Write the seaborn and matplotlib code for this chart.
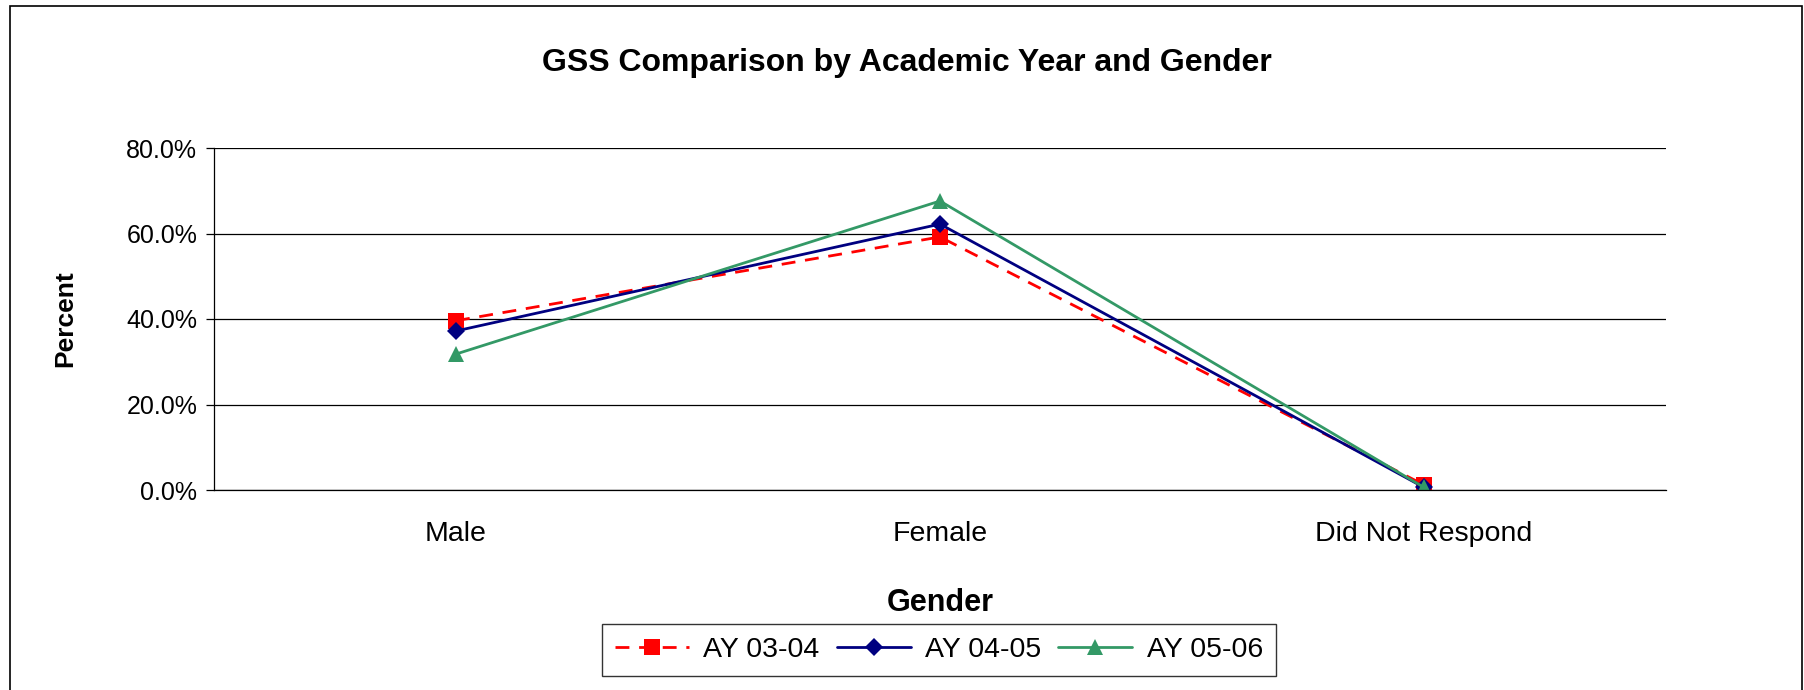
import pandas as pd
import matplotlib
matplotlib.use("Agg")
import matplotlib.pyplot as plt
import seaborn as sns
from matplotlib.patches import Rectangle
from matplotlib.ticker import PercentFormatter, FixedLocator

# ── data ────────────────────────────────────────────────────
genders = ["Male", "Female", "Did Not Respond"]
ay_0304 = [0.396, 0.592, 0.012]
ay_0405 = [0.372, 0.622, 0.006]
ay_0506 = [0.318, 0.676, 0.006]
series_names = ["AY 03-04", "AY 04-05", "AY 05-06"]

df = pd.DataFrame({
    "Gender": genders * 3,
    "Percent": ay_0304 + ay_0405 + ay_0506,
    "Year": [n for n in series_names for _ in genders],
})

sns.set_style("white")
plt.rcParams["font.family"] = ["Liberation Sans", "DejaVu Sans"]
plt.rcParams.update({"text.color": "black", "axes.labelcolor": "black",
                     "xtick.color": "black", "ytick.color": "black"})

fig = plt.figure(figsize=(18.04, 6.9), dpi=100)
ax = fig.add_axes([214 / 1804, 1 - 490 / 690, 1452 / 1804, 342 / 690])

styles = {
    "AY 03-04": dict(color="#FF0000", marker="s", ms=11, dashes=(5, 3.5)),
    "AY 04-05": dict(color="#000080", marker="D", ms=9, dashes=()),
    "AY 05-06": dict(color="#339966", marker="^", ms=12, dashes=()),
}
for name in series_names:
    st = styles[name]
    sub = df[df["Year"] == name]
    sns.lineplot(data=sub, x="Gender", y="Percent", ax=ax, color=st["color"],
                 marker=st["marker"], markersize=st["ms"], markeredgewidth=0,
                 linewidth=2, label=name, sort=False)
    ln = ax.get_lines()[-1]
    if st["dashes"]:
        ln.set_dashes(st["dashes"])

ax.set_xlim(-0.5, 2.5)
ax.set_ylim(0, 0.8)
ax.set_yticks([0, 0.2, 0.4, 0.6, 0.8])
ax.yaxis.set_major_formatter(PercentFormatter(1, decimals=1))
ax.grid(axis="y", color="black", linewidth=0.9)
ax.set_axisbelow(True)

for s in ["top", "right"]:
    ax.spines[s].set_visible(False)
for s in ["left", "bottom"]:
    ax.spines[s].set_color("black")
    ax.spines[s].set_linewidth(0.9)

ax.xaxis.set_minor_locator(FixedLocator([-0.5, 0.5, 1.5, 2.5]))
ax.tick_params(axis="x", which="major", length=0, pad=22, labelsize=20.5)
ax.tick_params(axis="x", which="minor", length=6, width=0.9, color="black", direction="out")
ax.tick_params(axis="y", length=6, width=0.9, color="black", direction="out",
               labelsize=18, pad=6, left=True)

ax.set_xlabel("Gender", fontsize=22, fontweight="bold", labelpad=30)
ax.set_ylabel("Percent", fontsize=19, fontweight="bold", labelpad=35)
fig.text(0.5 + 5 / 1804, 1 - 63 / 690, "GSS Comparison by Academic Year and Gender",
         ha="center", va="center", fontsize=23, fontweight="bold")

ax.get_legend().remove()
handles, labels = ax.get_legend_handles_labels()
leg = fig.legend(handles, labels, loc="center", ncol=3,
                 bbox_to_anchor=(939 / 1804, 1 - 650 / 690),
                 fontsize=20.5, frameon=True, fancybox=False, handlelength=2.6,
                 columnspacing=0.6, handletextpad=0.5, borderpad=0.45,
                 borderaxespad=0)
leg.get_frame().set_edgecolor("black")
leg.get_frame().set_linewidth(1)

# chart frame
fig.patches.append(Rectangle((10 / 1804, -0.1), 1792 / 1804, 1.1 - 6 / 690,
                             transform=fig.transFigure, fill=False,
                             edgecolor="black", linewidth=1.2))

fig.savefig("out.png", dpi=100)
